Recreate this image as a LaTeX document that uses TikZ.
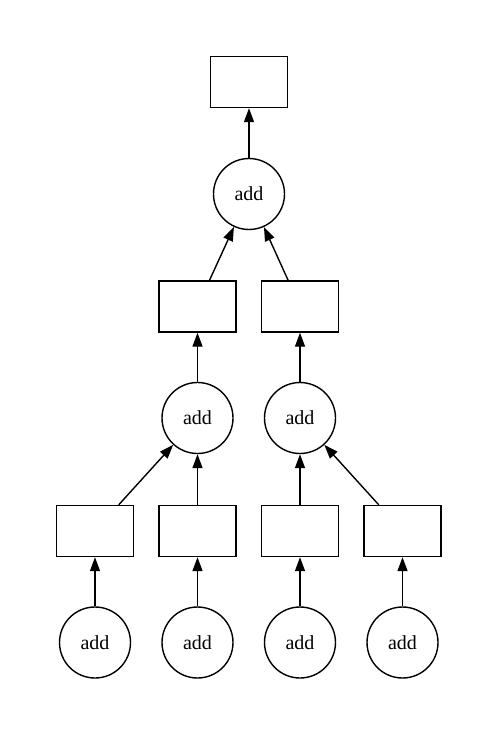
\documentclass[tikz,border=0pt]{standalone}
\usepackage{fontspec}
\setmainfont{Liberation Serif}
\usetikzlibrary{arrows.meta}
\begin{document}
\begin{tikzpicture}[x=1pt,y=-1pt,
  addnode/.style={circle,draw,line width=1.4pt,minimum size=71pt,inner sep=0pt,font=\fontsize{20}{24}\selectfont},
  boxnode/.style={rectangle,draw,line width=1.4pt,minimum width=77pt,minimum height=51pt,inner sep=0pt},
  edge/.style={line width=1.4pt,-{Triangle[length=14pt,width=10pt]}}]
\useasboundingbox (0,0) rectangle (498,735);
\node[boxnode] (T) at (249,82) {};
\node[addnode] (C0) at (249,194) {add};
\node[boxnode] (M1) at (197.5,306.5) {};
\node[boxnode] (M2) at (300,306.5) {};
\node[addnode] (A1) at (197.5,418) {add};
\node[addnode] (A2) at (300,418) {add};
\node[boxnode] (B1) at (95,531) {};
\node[boxnode] (B2) at (197.5,531) {};
\node[boxnode] (B3) at (300,531) {};
\node[boxnode] (B4) at (402.5,531) {};
\node[addnode] (D1) at (95,642.5) {add};
\node[addnode] (D2) at (197.5,642.5) {add};
\node[addnode] (D3) at (300,642.5) {add};
\node[addnode] (D4) at (402.5,642.5) {add};
\draw[edge] (C0) -- (T);
\draw[edge] (M1) -- (C0);
\draw[edge] (M2) -- (C0);
\draw[edge] (A1) -- (M1);
\draw[edge] (A2) -- (M2);
\draw[edge] (B1) -- (A1);
\draw[edge] (B2) -- (A1);
\draw[edge] (B3) -- (A2);
\draw[edge] (B4) -- (A2);
\draw[edge] (D1) -- (B1);
\draw[edge] (D2) -- (B2);
\draw[edge] (D3) -- (B3);
\draw[edge] (D4) -- (B4);
\end{tikzpicture}
\end{document}
